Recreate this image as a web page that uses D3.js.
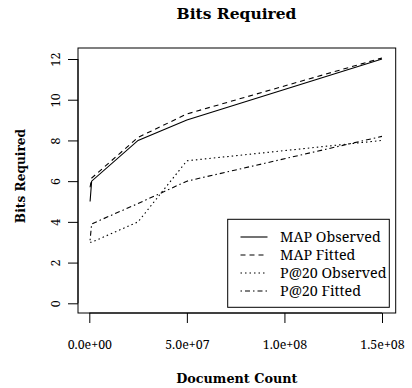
<!DOCTYPE html>
<html>
<head>
<meta charset="utf-8">
<script src="https://cdn.jsdelivr.net/npm/d3@7"></script>
<style>
  html, body { margin: 0; padding: 0; background: #fff; }
  svg { display: block; }
  .tk { font-family: "Noto Serif", "Liberation Serif", serif; font-size: 12.4px; }
  .lg { font-family: "Noto Serif", "Liberation Serif", serif; font-size: 14.3px; }
  .ttl { font-family: "DejaVu Serif", serif; font-weight: bold; }
</style>
</head>
<body>
<svg id="chart" width="412" height="388"></svg>
<script>
// ---- data ----
const docCounts = [4e5, 1.2e6, 2.5e7, 5e7, 1.5e8];
const mapObserved = [5, 6, 8, 9, 12];
const mapFitted = [5.7, 6.15, 8.15, 9.3, 12.05];
const p20Observed = [3, 3, 4, 7, 8];
const p20Fitted = [3.1, 3.9, 4.9, 6.0, 8.2];
const xTicks = [0, 5e7, 1e8, 1.5e8];
const xTickLabels = ["0.0e+00", "5.0e+07", "1.0e+08", "1.5e+08"];
const yTicks = [0, 2, 4, 6, 8, 10, 12];
const seriesNames = ["MAP Observed", "MAP Fitted", "P@20 Observed", "P@20 Fitted"];

const svg = d3.select("#chart");
const x = d3.scaleLinear().domain([0, 1.5e8]).range([89.3, 382]);
const y = d3.scaleLinear().domain([0, 12]).range([303.3, 59]);

// plot region (4% padding as in R)
const xMin = x.invert(78), xMax = x.invert(395.7);
const yMin = y.invert(313), yMax = y.invert(48);

// title
svg.append("text").attr("x", 236.5).attr("y", 19)
  .attr("text-anchor", "middle").attr("class", "ttl")
  .style("font-size", "15.5px").attr("fill", "#000")
  .text("Bits Required");

// box
svg.append("rect")
  .attr("x", x(xMin)).attr("y", y(yMax))
  .attr("width", x(xMax) - x(xMin)).attr("height", y(yMin) - y(yMax))
  .attr("fill", "none").attr("stroke", "#000").attr("stroke-width", 1);

// x axis
const xAxis = d3.axisBottom(x).tickValues(xTicks)
  .tickFormat((d, i) => xTickLabels[i]).tickSize(10).tickPadding(17);
const gx = svg.append("g").attr("transform", `translate(0,${y(yMin)})`).call(xAxis)
  .attr("font-size", null).attr("font-family", null);
gx.select(".domain").attr("d", `M${x(xTicks[0])},0H${x(xTicks[xTicks.length-1])}`);
gx.selectAll(".tick text").attr("class", "tk").attr("fill", "#000")
  .attr("dy", null).attr("y", 36);

// y axis
const yAxis = d3.axisLeft(y).tickValues(yTicks).tickSize(10).tickFormat(d3.format("d"));
const gy = svg.append("g").attr("transform", `translate(${x(xMin)},0)`).call(yAxis)
  .attr("font-size", null).attr("font-family", null);
gy.select(".domain").attr("d", `M0,${y(yTicks[0])}V${y(yTicks[yTicks.length-1])}`);
gy.selectAll(".tick text").attr("class", "tk").attr("fill", "#000")
  .attr("x", null).attr("dy", null)
  .attr("transform", "translate(-18.5,0) rotate(-90)")
  .attr("text-anchor", "middle").attr("y", 0);

// axis titles
svg.append("text").attr("x", 236.8).attr("y", 383)
  .attr("text-anchor", "middle").attr("class", "ttl")
  .style("font-size", "12.8px").attr("fill", "#000")
  .text("Document Count");
svg.append("text")
  .attr("transform", "translate(25,176) rotate(-90)")
  .attr("text-anchor", "middle").attr("class", "ttl")
  .style("font-size", "12.2px").attr("fill", "#000")
  .text("Bits Required");

// lines
const dashes = [null, "5,4", "1.5,3", "1.5,3,5,3"];
const seriesVals = [mapObserved, mapFitted, p20Observed, p20Fitted];
const line = d3.line().x((d, i) => x(docCounts[i])).y(d => y(d));
seriesVals.forEach((vals, k) => {
  svg.append("path").datum(vals)
    .attr("d", line)
    .attr("fill", "none").attr("stroke", "#000").attr("stroke-width", 1.1)
    .attr("stroke-dasharray", dashes[k]);
});

// legend
const lg = svg.append("g");
lg.append("rect").attr("x", 227.7).attr("y", 219.3).attr("width", 161.6).attr("height", 88)
  .attr("fill", "#fff").attr("stroke", "#000").attr("stroke-width", 1);
seriesNames.forEach((name, k) => {
  const cy = 237 + k * 18;
  lg.append("line").attr("x1", 240.5).attr("x2", 267.5).attr("y1", cy).attr("y2", cy)
    .attr("stroke", "#000").attr("stroke-width", 1.1).attr("stroke-dasharray", dashes[k]);
  lg.append("text").attr("x", 280).attr("y", cy + 5)
    .attr("class", "lg").attr("fill", "#000")
    .text(name);
});
</script>
</body>
</html>
